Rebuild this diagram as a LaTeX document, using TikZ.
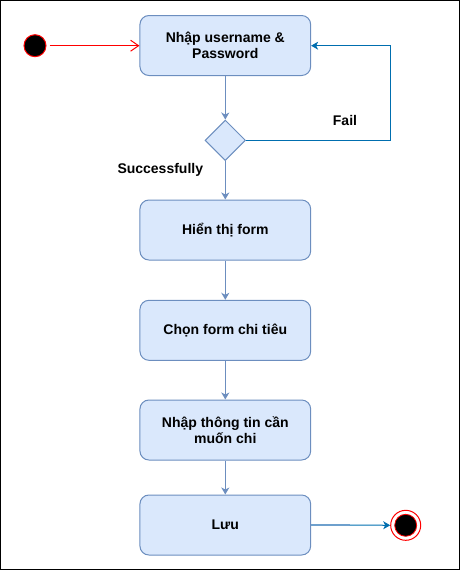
\documentclass[tikz,border=0pt]{standalone}
\usepackage{fontspec}
\setmainfont{Liberation Sans}
\usetikzlibrary{shapes.geometric,arrows.meta}
\definecolor{boxfill}{HTML}{DAE8FC}
\definecolor{boxline}{HTML}{6C8EBF}
\definecolor{failblue}{HTML}{006EAF}
\definecolor{lightblue}{HTML}{6EA0CD}
\tikzset{
  stepbox/.style={draw=boxline, fill=boxfill, line width=1pt, rounded corners=9pt,
    minimum width=170.7pt, minimum height=60pt, align=center, inner sep=0pt,
    font=\fontsize{14}{16}\selectfont\bfseries},
  decide/.style={draw=boxline, fill=boxfill, line width=1pt, diamond, aspect=1,
    minimum size=40.5pt, inner sep=0pt},
  flow/.style={draw=boxline, line width=1pt, -{Stealth[length=7pt,width=8pt,inset=2pt]}},
  lbl/.style={font=\fontsize{14}{16}\selectfont\bfseries, inner sep=0pt},
}
\begin{document}
\begin{tikzpicture}[x=1pt,y=-1pt]
\useasboundingbox (0,0) rectangle (461,571);
\draw[line width=1.3pt] (0.7,0.7) rectangle (459.6,569.6);

\node[circle, draw=red, fill=black, line width=1pt, minimum size=22pt, inner sep=0pt] (start) at (35,45.7) {};
\node[stepbox] (b1) at (225.3,45.5) {Nhập username \&\\Password};
\node[decide] (dia) at (225.3,140.3) {};
\node[stepbox] (b2) at (225.3,230) {Hiển thị form};
\node[stepbox] (b3) at (225.3,330.3) {Chọn form chi tiêu};
\node[stepbox] (b4) at (225.3,430) {Nhập thông tin cần\\muốn chi};
\node[stepbox] (b5) at (225.3,525) {Lưu};
\node[circle, draw=red, fill=white, line width=1pt, minimum size=30pt, inner sep=0pt] (end) at (405.7,525.3) {};
\node[circle, draw=red, fill=black, line width=0.8pt, minimum size=22pt, inner sep=0pt] (endin) at (end.center) {};

\node[lbl] (fail) at (345,120.7) {Fail};
\node[lbl] (succ) at (160.3,170) {Successfully};

\draw[red, line width=1pt, shorten <=3pt, -{Straight Barb[length=8pt,width=11pt]}] (start) -- (start -| b1.west);
\draw[flow] (b1) -- (dia);
\coordinate (fc) at (390,45.7);
\draw[failblue, line width=1pt, -{Stealth[length=7pt,width=8pt,inset=2pt]}] (dia.east) -| (fc) -- (fc -| b1.east);
\draw[flow] (dia) -- (b2);
\draw[flow] (b2) -- (b3);
\draw[flow] (b3) -- (b4);
\draw[flow] (b4) -- (b5);
\coordinate (mid) at (350,525);
\draw[lightblue, line width=1.2pt] (b5.east) -- (mid);
\draw[failblue, line width=1pt, -{Stealth[length=7pt,width=8pt,inset=2pt]}] (mid) -- (end.west);
\end{tikzpicture}
\end{document}
